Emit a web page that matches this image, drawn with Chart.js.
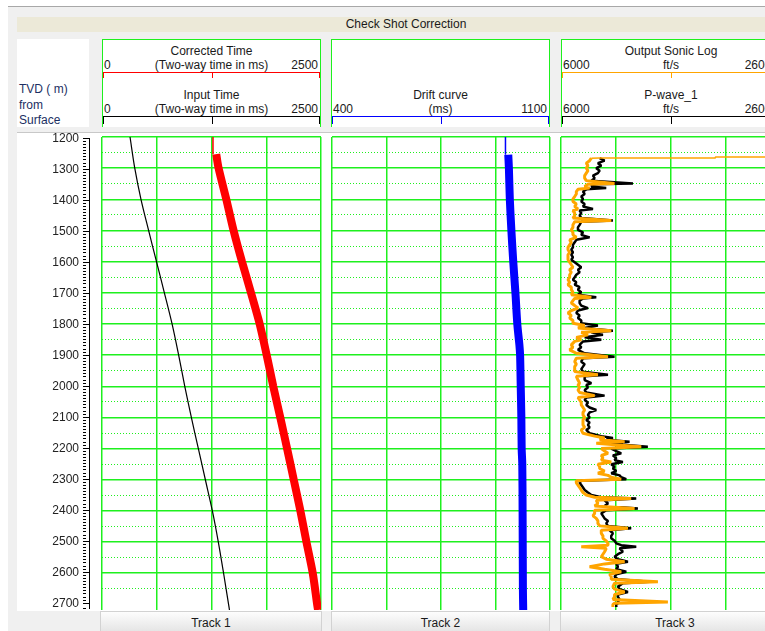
<!DOCTYPE html>
<html>
<head>
<meta charset="utf-8">
<script src="https://cdn.jsdelivr.net/npm/chart.js@4.4.0/dist/chart.umd.min.js"></script>
<style>
  html, body { margin: 0; padding: 0; background: #fff; }
  #page { position: relative; width: 765px; height: 631px; overflow: hidden; background: #fff;
          font-family: "Liberation Sans", Arial, sans-serif; font-size: 12px; color: #1a1a1a; }
  #page div, #page canvas { position: absolute; }
  #frame { left: 8px; top: 6px; width: 800px; height: 640px; background: #f0f0f0; border-top: 1px solid #a8a8a8; }
  #titlebar { left: 17px; top: 17px; width: 778px; height: 15px; line-height: 15px; background: #ece9d8; text-align: center; }
  #depthHead { left: 17px; top: 39px; width: 72px; height: 88px; background: #fff; }
  #depthHead div { left: 2px; top: 43px; line-height: 15.5px; color: #1c2f63; }
  .hdr { top: 39px; height: 88px; background: #fff; border: 1px solid #1ef01e; border-bottom: none; box-sizing: border-box; }
  .hdr .ttl { left: 0; right: 0; line-height: 14px; text-align: center; white-space: nowrap; }
  .hdr .lo { left: 1px; line-height: 14px; }
  .hdr .hi { right: 2px; line-height: 14px; }
  .hdr .bar { left: 0; right: 0; height: 0; border-top: 1px solid; }
  .hdr .tk { top: 0; width: 1px; }
  #plotPanel { left: 17px; top: 132px; width: 800px; height: 478px; background: #fff; border-top: 1px solid #c8c8c8; }
  #depthClip { left: 0; top: 133px; width: 120px; height: 477px; overflow: hidden; }
  .ftr { top: 611px; height: 22px; line-height: 22px; text-align: center; box-sizing: border-box;
         background: linear-gradient(#fdfdfd, #e4e4e4); border: 1px solid #d2d2d2; }
</style>
</head>
<body>
<div id="page">
  <div id="frame"></div>
  <div id="titlebar">Check Shot Correction</div>

  <div id="depthHead"><div>TVD ( m)<br>from<br>Surface</div></div>

  <!-- Track 1 header -->
  <div class="hdr" style="left:102px;width:219px">
    <div class="ttl" style="top:4px">Corrected Time</div>
    <div class="lo" style="top:18px">0</div>
    <div class="ttl" style="top:18px">(Two-way time in ms)</div>
    <div class="hi" style="top:18px">2500</div>
    <div class="bar" style="top:32px;border-color:#ff0000">
      <div class="tk" style="left:0;height:5px;background:#ff0000"></div>
      <div class="tk" style="left:50%;height:5px;background:#ff0000"></div>
      <div class="tk" style="right:0;height:5px;background:#ff0000"></div>
    </div>
    <div class="ttl" style="top:48px">Input Time</div>
    <div class="lo" style="top:62px">0</div>
    <div class="ttl" style="top:62px">(Two-way time in ms)</div>
    <div class="hi" style="top:62px">2500</div>
    <div class="bar" style="top:76px;border-color:#000">
      <div class="tk" style="left:0;height:7px;background:#000"></div>
      <div class="tk" style="left:50%;height:7px;background:#000"></div>
      <div class="tk" style="right:0;height:7px;background:#000"></div>
    </div>
  </div>

  <!-- Track 2 header -->
  <div class="hdr" style="left:331px;width:219px">
    <div class="ttl" style="top:48px">Drift curve</div>
    <div class="lo" style="top:62px">400</div>
    <div class="ttl" style="top:62px">(ms)</div>
    <div class="hi" style="top:62px">1100</div>
    <div class="bar" style="top:76px;border-color:#0000ff">
      <div class="tk" style="left:0;height:7px;background:#0000ff"></div>
      <div class="tk" style="left:50%;height:7px;background:#0000ff"></div>
      <div class="tk" style="right:0;height:7px;background:#0000ff"></div>
    </div>
  </div>

  <!-- Track 3 header -->
  <div class="hdr" style="left:561px;width:220px">
    <div class="ttl" style="top:4px">Output Sonic Log</div>
    <div class="lo" style="top:18px">6000</div>
    <div class="ttl" style="top:18px">ft/s</div>
    <div class="hi" style="top:18px">26000</div>
    <div class="bar" style="top:32px;border-color:#ffa500">
      <div class="tk" style="left:0;height:5px;background:#ffa500"></div>
      <div class="tk" style="left:50%;height:5px;background:#ffa500"></div>
      <div class="tk" style="right:0;height:5px;background:#ffa500"></div>
    </div>
    <div class="ttl" style="top:48px">P-wave_1</div>
    <div class="lo" style="top:62px">6000</div>
    <div class="ttl" style="top:62px">ft/s</div>
    <div class="hi" style="top:62px">26000</div>
    <div class="bar" style="top:76px;border-color:#000">
      <div class="tk" style="left:0;height:7px;background:#000"></div>
      <div class="tk" style="left:50%;height:7px;background:#000"></div>
      <div class="tk" style="right:0;height:7px;background:#000"></div>
    </div>
  </div>

  <div id="plotPanel"></div>

  <div class="ftr" style="left:100px;width:222px">Track 1</div>
  <div class="ftr" style="left:331px;width:219px">Track 2</div>
  <div class="ftr" style="left:560px;width:230px">Track 3</div>

  <div id="depthClip"><canvas id="depthAxis" width="80" height="493" style="left:17px;top:-6px"></canvas></div>
  <canvas id="track1" width="223" height="493" style="left:100px;top:127px"></canvas>
  <canvas id="track2" width="222" height="493" style="left:330px;top:127px"></canvas>
  <canvas id="track3" width="223" height="493" style="left:559px;top:127px"></canvas>
</div>

<script>
const DEPTH_MIN = 1200;
const DEPTH_MAX = 2718;
const GRID_GREEN = "#1ef01e";
const FONT = '"Liberation Sans", Arial, sans-serif';

// Track 1 - two-way times (ms) against depth (m)
const inputDepth = [1200, 1300, 1400, 1500, 1600, 1700, 1800, 1900, 2000, 2100, 2200, 2300, 2400, 2500, 2600, 2700, 2718];
const inputTime = [320, 374, 445, 532, 622, 712, 800, 875, 945, 1020, 1100, 1180, 1260, 1328, 1388, 1445, 1455];

const correctedThinDepth = [1200, 1255];
const correctedThinTime = [1267, 1267];
const correctedDepth = [1255, 1300, 1400, 1500, 1600, 1700, 1800, 1900, 2000, 2100, 2200, 2300, 2400, 2500, 2600, 2700, 2718];
const correctedTime = [1304, 1331, 1419, 1502, 1598, 1701, 1800, 1880, 1955, 2035, 2113, 2189, 2265, 2334, 2406, 2456, 2466];

// Track 2 - drift curve (ms)
const driftThinDepth = [1200, 1257];
const driftThinMs = [957, 957];
const driftDepth = [1257, 1300, 1400, 1500, 1600, 1700, 1800, 1870, 1900, 2000, 2100, 2200, 2250, 2400, 2650, 2718];
const driftMs = [966, 968, 971, 976, 982, 989, 995, 1002, 1004, 1006, 1008, 1009, 1011, 1012, 1013, 1014];

// Track 3 - sonic logs (ft/s)
const outputTopDepth = [1264, 1264, 1267, 1267, 1268];
const outputTopVel = [30000, 20100, 20100, 9500, 8770];

const sonicDepth = [
  1268, 1276, 1284, 1292, 1300, 1308, 1316, 1324, 1332, 1340, 1349, 1352, 1359, 1364, 1368, 1375,
  1383, 1391, 1399, 1407, 1415, 1423, 1431, 1436, 1444, 1452, 1460, 1468, 1472, 1482, 1490, 1498,
  1506, 1514, 1522, 1530, 1538, 1546, 1554, 1562, 1570, 1578, 1586, 1594, 1602, 1610, 1618, 1626,
  1634, 1642, 1650, 1658, 1666, 1674, 1682, 1690, 1698, 1706, 1714, 1718, 1725, 1733, 1741, 1749,
  1757, 1765, 1773, 1781, 1789, 1798, 1805, 1813, 1822, 1827, 1835, 1843, 1851, 1856, 1867, 1875,
  1883, 1894, 1905, 1910, 1921, 1929, 1937, 1945, 1953, 1963, 1968, 1980, 1990, 1996, 2004, 2012,
  2020, 2030, 2036, 2044, 2052, 2060, 2068, 2076, 2084, 2092, 2100, 2108, 2116, 2124, 2132, 2140,
  2151, 2160, 2166, 2172, 2178, 2183, 2188, 2194, 2200, 2208, 2215, 2222, 2230, 2237, 2243, 2250,
  2258, 2264, 2272, 2279, 2286, 2292, 2298, 2303, 2310, 2317, 2325, 2333, 2341, 2349, 2356, 2360,
  2366, 2376, 2384, 2392, 2398, 2408, 2416, 2424, 2432, 2440, 2448, 2456, 2462, 2472, 2480, 2488,
  2496, 2504, 2510, 2515, 2520, 2531, 2539, 2547, 2555, 2563, 2570, 2579, 2587, 2595, 2603, 2611,
  2619, 2627, 2632, 2643, 2651, 2660, 2668, 2676, 2684, 2692, 2696, 2700, 2708
];

const outputSonic = [
  8770, 8610, 8310, 8460, 8310, 8460, 8310, 8160, 8160, 8310, 10890, 8460, 8160, 8610, 7550, 7400,
  7400, 7250, 7090, 7090, 7400, 7250, 7550, 7090, 7250, 7250, 7090, 10590, 7250, 7090, 7090, 6940,
  7090, 7090, 7400, 6790, 6940, 6790, 6640, 6640, 6790, 6640, 6640, 6640, 6790, 6940, 7090, 6790,
  6940, 6790, 6790, 6640, 6790, 6640, 6940, 6940, 7090, 6940, 8770, 7250, 7090, 6940, 7250, 7550,
  6940, 6640, 6940, 6790, 7090, 7090, 8160, 7550, 10590, 7850, 8460, 7400, 7850, 7250, 6940, 7090,
  6790, 7400, 10290, 7400, 7250, 7400, 7250, 7250, 7250, 9370, 7400, 7550, 7700, 7550, 7700, 7550,
  7700, 9070, 7550, 7700, 7850, 7850, 8010, 8160, 8010, 8010, 8160, 8010, 8010, 8010, 8160, 7850,
  8010, 9070, 9980, 9530, 11810, 9220, 10890, 13330, 9680, 9980, 10290, 9680, 9830, 9680, 10590, 9370,
  9530, 9530, 9980, 9370, 10290, 10590, 11500, 7400, 7400, 7550, 7700, 7850, 8010, 8310, 9070, 12410,
  9220, 9370, 9070, 12720, 9070, 9070, 8920, 9220, 9370, 9370, 9530, 12110, 9680, 9680, 9830, 9830,
  10130, 10290, 10290, 7850, 10130, 9980, 9830, 9680, 10130, 11810, 9980, 8610, 9980, 11500, 10440, 10590,
  10590, 14850, 10890, 10740, 10890, 11810, 10890, 10890, 10740, 15760, 10890, 10740, 10740
];

const pWave = [
  9530, 9980, 9370, 9680, 9220, 9530, 9370, 8920, 9070, 8770, 12570, 8920, 8770, 10130, 8310, 8010,
  8160, 7850, 8010, 7850, 8160, 8010, 8920, 7700, 7850, 7700, 7850, 10740, 7850, 7700, 7550, 7550,
  8010, 7850, 8610, 7400, 7250, 7090, 7090, 6940, 7090, 6940, 7090, 6940, 7250, 7550, 7850, 7550,
  7700, 7400, 7250, 7090, 7400, 7250, 7700, 7550, 7850, 7550, 9220, 8010, 7700, 7700, 7850, 8460,
  7550, 7400, 7700, 7550, 7850, 7850, 9370, 8160, 10740, 8770, 9830, 8160, 9680, 8010, 7700, 7850,
  7550, 8160, 10890, 8010, 7850, 8160, 8010, 7850, 8010, 10290, 8160, 8160, 8770, 8310, 8460, 8160,
  8310, 9980, 8310, 8160, 8460, 8310, 8610, 9220, 8610, 8460, 8610, 8310, 8610, 8460, 8610, 8310,
  8610, 9680, 10740, 10130, 12260, 10290, 11650, 13930, 10590, 11050, 11500, 10740, 11050, 10890, 11650, 10590,
  10890, 10740, 11050, 10590, 11350, 11500, 11960, 7850, 7700, 7850, 8010, 8160, 8460, 8770, 9680, 12870,
  9980, 10290, 9980, 13020, 10130, 9680, 9830, 9980, 10290, 10130, 10290, 12410, 10440, 10740, 10590, 10590,
  10890, 11050, 11500, 12870, 11350, 11650, 11200, 10890, 11200, 12110, 11050, 11200, 11050, 11960, 11050, 10890,
  11200, 14090, 11650, 11200, 11350, 12110, 11200, 11200, 11350, 11200, 11200, 11050, 11050
];

const points = (xs, ys) => xs.map((x, i) => ({ x: x, y: ys[i] }));
const isMinor = (ctx) => ctx.tick && ctx.tick.value % 100 !== 0;

function makeTrack(id, xMin, xMax, datasets) {
  return new Chart(document.getElementById(id), {
    type: "scatter",
    data: { datasets: datasets },
    options: {
      responsive: false,
      animation: false,
      layout: { padding: { top: 10, bottom: 10, left: 2, right: 2 } },
      plugins: { legend: { display: false }, tooltip: { enabled: false } },
      elements: { point: { radius: 0 }, line: { borderJoinStyle: "bevel" } },
      scales: {
        x: {
          type: "linear", min: xMin, max: xMax,
          ticks: { display: false, stepSize: (xMax - xMin) / 4 },
          grid: { color: GRID_GREEN, lineWidth: 1.5, drawTicks: false },
          border: { display: false },
        },
        y: {
          type: "linear", reverse: true, min: DEPTH_MIN, max: DEPTH_MAX,
          ticks: { display: false, stepSize: 50, autoSkip: false },
          grid: {
            drawTicks: false,
            // solid every 100 m, dotted at the 50s, nothing at the odd bottom edge
            color: (ctx) => (ctx.tick && ctx.tick.value % 50 !== 0 ? "rgba(0,0,0,0)" : GRID_GREEN),
            lineWidth: (ctx) => (isMinor(ctx) ? 1 : 1.5),
          },
          border: { display: false, dash: (ctx) => (isMinor(ctx) ? [1, 2] : []) },
        },
      },
    },
  });
}

function line(label, data, color, width, tension) {
  return { label: label, data: data, showLine: true, borderColor: color, borderWidth: width,
           pointRadius: 0, borderCapStyle: "butt", tension: tension || 0 };
}

// depth axis on its own, the tracks sit to the right of it
new Chart(document.getElementById("depthAxis"), {
  type: "scatter",
  data: { datasets: [] },
  options: {
    responsive: false,
    animation: false,
    layout: { padding: { top: 10, bottom: 10, left: 0, right: 2 } },
    plugins: { legend: { display: false }, tooltip: { enabled: false } },
    scales: {
      x: { display: false },
      y: {
        type: "linear", reverse: true, min: DEPTH_MIN, max: DEPTH_MAX,
        afterFit: (scale) => { scale.width = 72; },
        ticks: {
          stepSize: 10, autoSkip: false, padding: 4, color: "#222",
          font: { family: FONT, size: 12 },
          callback: (v) => (v % 100 === 0 ? String(v) : ""),
        },
        grid: {
          drawOnChartArea: false, tickLength: 6, tickColor: "#000",
          tickBorderDash: (ctx) => (isMinor(ctx) ? [3, 20] : []),
        },
        border: { color: "#000", width: 1 },
      },
    },
  },
});

makeTrack("track1", 0, 2500, [
  line("Corrected Time", points(correctedTime, correctedDepth), "#ff0000", 8, 0.3),
  line("Corrected Time (top)", points(correctedThinTime, correctedThinDepth), "#ff0000", 1.5),
  line("Input Time", points(inputTime, inputDepth), "#000000", 1.2, 0.3),
]);

makeTrack("track2", 400, 1100, [
  line("Drift curve", points(driftMs, driftDepth), "#0000ff", 8, 0.3),
  line("Drift curve (top)", points(driftThinMs, driftThinDepth), "#0000ff", 1.5),
]);

// orange is drawn over the black log; the off-scale top reading stays thin
makeTrack("track3", 6000, 26000, [
  line("Output Sonic Log (top)", points(outputTopVel, outputTopDepth), "#ffa500", 1.5),
  line("Output Sonic Log", points(outputSonic, sonicDepth), "#ffa500", 3),
  line("P-wave_1", points(pWave, sonicDepth), "#000000", 2.5),
]);
</script>
</body>
</html>
